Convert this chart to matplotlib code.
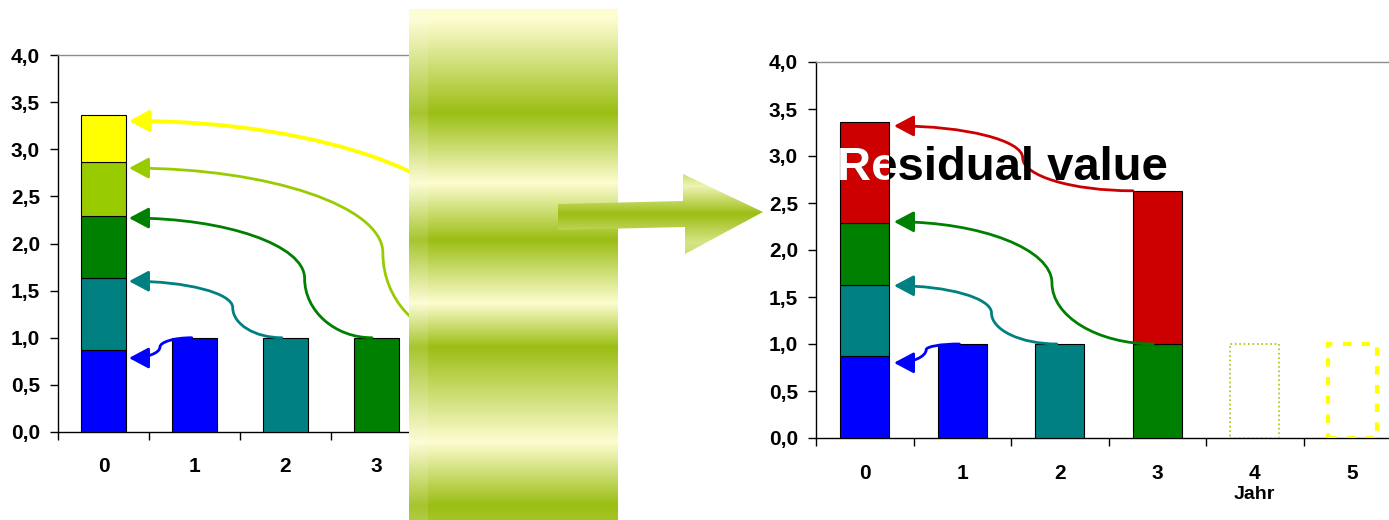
import numpy as np
import matplotlib
matplotlib.use("Agg")
import matplotlib.pyplot as plt
from matplotlib.path import Path
from matplotlib.patches import FancyArrowPatch, Polygon, Rectangle
from matplotlib.transforms import Bbox, TransformedBbox

plt.rcParams["font.family"] = ["Liberation Sans", "DejaVu Sans"]
plt.rcParams["font.weight"] = "bold"

years = [0, 1, 2, 3, 4, 5]
payments = [1.0, 1.0, 1.0, 1.0, 1.0]          # yearly value, years 1..5
pv_parts = [0.87, 0.76, 0.66, 0.57, 0.50]      # present value of each year
residual_y3 = 1.63                             # residual value at end of year 3
residual_pv = 1.07                             # residual value discounted to year 0
yticks = [0.0, 0.5, 1.0, 1.5, 2.0, 2.5, 3.0, 3.5, 4.0]
ytick_labels = ["0,0", "0,5", "1,0", "1,5", "2,0", "2,5", "3,0", "3,5", "4,0"]
xlabel = "Jahr"
note = "Residual value"

colors = ["#0000FF", "#008080", "#008000", "#99CC00", "#FFFF00"]
red = "#CC0000"
W = 0.5


def style_axes(ax, pad_x):
    ax.set_xlim(-0.5, 5.5)
    ax.set_ylim(0, 4)
    ax.set_xticks(years)
    ax.set_xticklabels([str(y) for y in years])
    ax.set_xticks(np.arange(-0.5, 6.0, 1.0), minor=True)
    ax.tick_params(axis="x", which="major", length=0, pad=pad_x, labelsize=15)
    ax.tick_params(axis="x", which="minor", length=6, width=1, direction="out")
    ax.set_yticks(yticks)
    ax.set_yticklabels(ytick_labels)
    ax.tick_params(axis="y", length=6, width=1, direction="out", pad=7, labelsize=15)
    ax.spines["right"].set_visible(False)
    ax.spines["top"].set_color("#8c8c8c")
    ax.spines["top"].set_linewidth(1)
    for s in ("left", "bottom"):
        ax.spines[s].set_linewidth(1)


def s_arrow(ax, start, mid, tip, color, lw=2.0, k=0.55):
    xs, ys = start
    xm, ym = mid
    xt, yt = tip
    verts = [start,
             (xs - k * (xs - xm), ys), (xm, ym - k * (ym - ys)), mid,
             (xm, ym + k * (yt - ym)), (xt + k * (xm - xt), yt), tip]
    codes = [Path.MOVETO] + [Path.CURVE4] * 6
    arr = FancyArrowPatch(path=Path(verts, codes),
                          arrowstyle="-|>,head_length=0.6,head_width=0.32",
                          mutation_scale=20, color=color, lw=lw, zorder=4)
    ax.add_patch(arr)


fig = plt.figure(figsize=(13.89, 5.2), dpi=100)

# left chart: present value of the yearly payments
axl = fig.add_axes([58 / 1389, 1 - 432 / 520, 546 / 1389, 377 / 520])
bottom = 0.0
for v, c in zip(pv_parts, colors):
    axl.bar(0, v, W, bottom=bottom, color=c, edgecolor="black", lw=0.8, zorder=3)
    bottom += v
for y, v, c in zip(years[1:], payments, colors):
    axl.bar(y, v, W, color=c, edgecolor="black", lw=0.8, zorder=3)
style_axes(axl, 18)

cum = np.cumsum(pv_parts)
s_arrow(axl, (0.97, 1.0), (0.62, 0.90), (0.28, cum[0] - 0.085), colors[0])
s_arrow(axl, (1.96, 1.0), (1.42, 1.32), (0.28, cum[1] - 0.03), colors[1])
s_arrow(axl, (2.95, 1.0), (2.21, 1.63), (0.28, cum[2] - 0.02), colors[2])
s_arrow(axl, (3.95, 1.0), (3.07, 1.90), (0.28, cum[3] - 0.06), colors[3])
s_arrow(axl, (4.90, 1.0), (4.20, 1.90), (0.28, cum[4] - 0.06), colors[4], lw=2.8)

# right chart: sale after year 3 with residual value
axr = fig.add_axes([816 / 1389, 1 - 438 / 520, 585 / 1389, 376 / 520])
bottom = 0.0
for v, c in zip(pv_parts[:3], colors[:3]):
    axr.bar(0, v, W, bottom=bottom, color=c, edgecolor="black", lw=0.8, zorder=3)
    bottom += v
red0 = axr.bar(0, residual_pv, W, bottom=bottom, color=red, edgecolor="black",
               lw=0.8, zorder=3)
for y, v, c in zip(years[1:4], payments[:3], colors[:3]):
    axr.bar(y, v, W, color=c, edgecolor="black", lw=0.8, zorder=3)
axr.bar(3, residual_y3, W, bottom=payments[2], color=red, edgecolor="black",
        lw=0.8, zorder=3)
axr.bar(4, payments[3], W, fill=False, edgecolor=colors[3], lw=1.2,
        linestyle=":", zorder=3)
axr.bar(5, payments[4], W, fill=False, edgecolor=colors[4], lw=3,
        linestyle=(0, (2, 2.5)), zorder=3)
style_axes(axr, 19)
axr.annotate(xlabel, xy=(4, 0), xycoords=("data", "axes fraction"),
             xytext=(0, -41), textcoords="offset points",
             ha="center", va="center", fontsize=14, fontweight="bold")

top3 = payments[2] + residual_y3
s_arrow(axr, (0.97, 1.0), (0.63, 0.94), (0.30, cum[0] - 0.07), colors[0])
s_arrow(axr, (1.97, 1.0), (1.30, 1.33), (0.30, cum[1] - 0.01), colors[1])
s_arrow(axr, (2.96, 1.0), (1.92, 1.65), (0.30, cum[2] + 0.01), colors[2])
s_arrow(axr, (2.75, top3), (1.62, 2.98), (0.30, cum[2] + residual_pv - 0.04), red)

# caption, white where it lies on the red segment of bar 0
axr.text(-0.285, 2.745, note, fontsize=34, fontweight="bold", color="black",
         ha="left", va="baseline", zorder=6)
wt = axr.text(-0.285, 2.745, note, fontsize=34, fontweight="bold", color="white",
              ha="left", va="baseline", zorder=7)
r = red0[0]
wt.set_clip_on(True)
wt.set_clip_box(TransformedBbox(
    Bbox([[r.get_x(), r.get_y()], [r.get_x() + r.get_width(), r.get_y() + r.get_height()]]),
    axr.transData))

# decorative band and arrow drawn on top in figure pixels
ov = fig.add_axes([0, 0, 1, 1], zorder=10)
ov.set_xlim(0, 1389)
ov.set_ylim(520, 0)
ov.axis("off")
ov.patch.set_alpha(0)

light = np.array([253, 253, 208]) / 255
green = np.array([155, 190, 20]) / 255


def grad(y0, y1, sy, st):
    ys = np.arange(y0, y1) + 0.5
    t = np.interp(ys, sy, st)[:, None, None]
    img = light * (1 - t) + green * t
    return np.repeat(img, 2, axis=1)


band = grad(9, 520, [9, 20, 113, 183, 240, 303, 347, 442, 505, 520],
            [0, 0, 1, 0, 1, 0, 1, 0, 1, 0.9])
ov.imshow(band, extent=[409, 618, 520, 9], aspect="auto", interpolation="bilinear")
ov.add_patch(Rectangle((409, 9), 19, 511, color="white", alpha=0.12, lw=0))

pts = [(558, 204), (683, 201), (683, 174), (763, 212), (685, 254), (685, 227), (558, 230)]
poly = Polygon(pts, closed=True, fc="none", ec="none")
ov.add_patch(poly)
arrow_img = grad(174, 254, [174, 186, 214, 242, 254], [0.5, 0.15, 1.0, 0.4, 0.5])
im = ov.imshow(arrow_img, extent=[558, 763, 254, 174], aspect="auto",
               interpolation="bilinear")
im.set_clip_path(poly)
ov.set_xlim(0, 1389)
ov.set_ylim(520, 0)

fig.savefig("out.png", dpi=100)
